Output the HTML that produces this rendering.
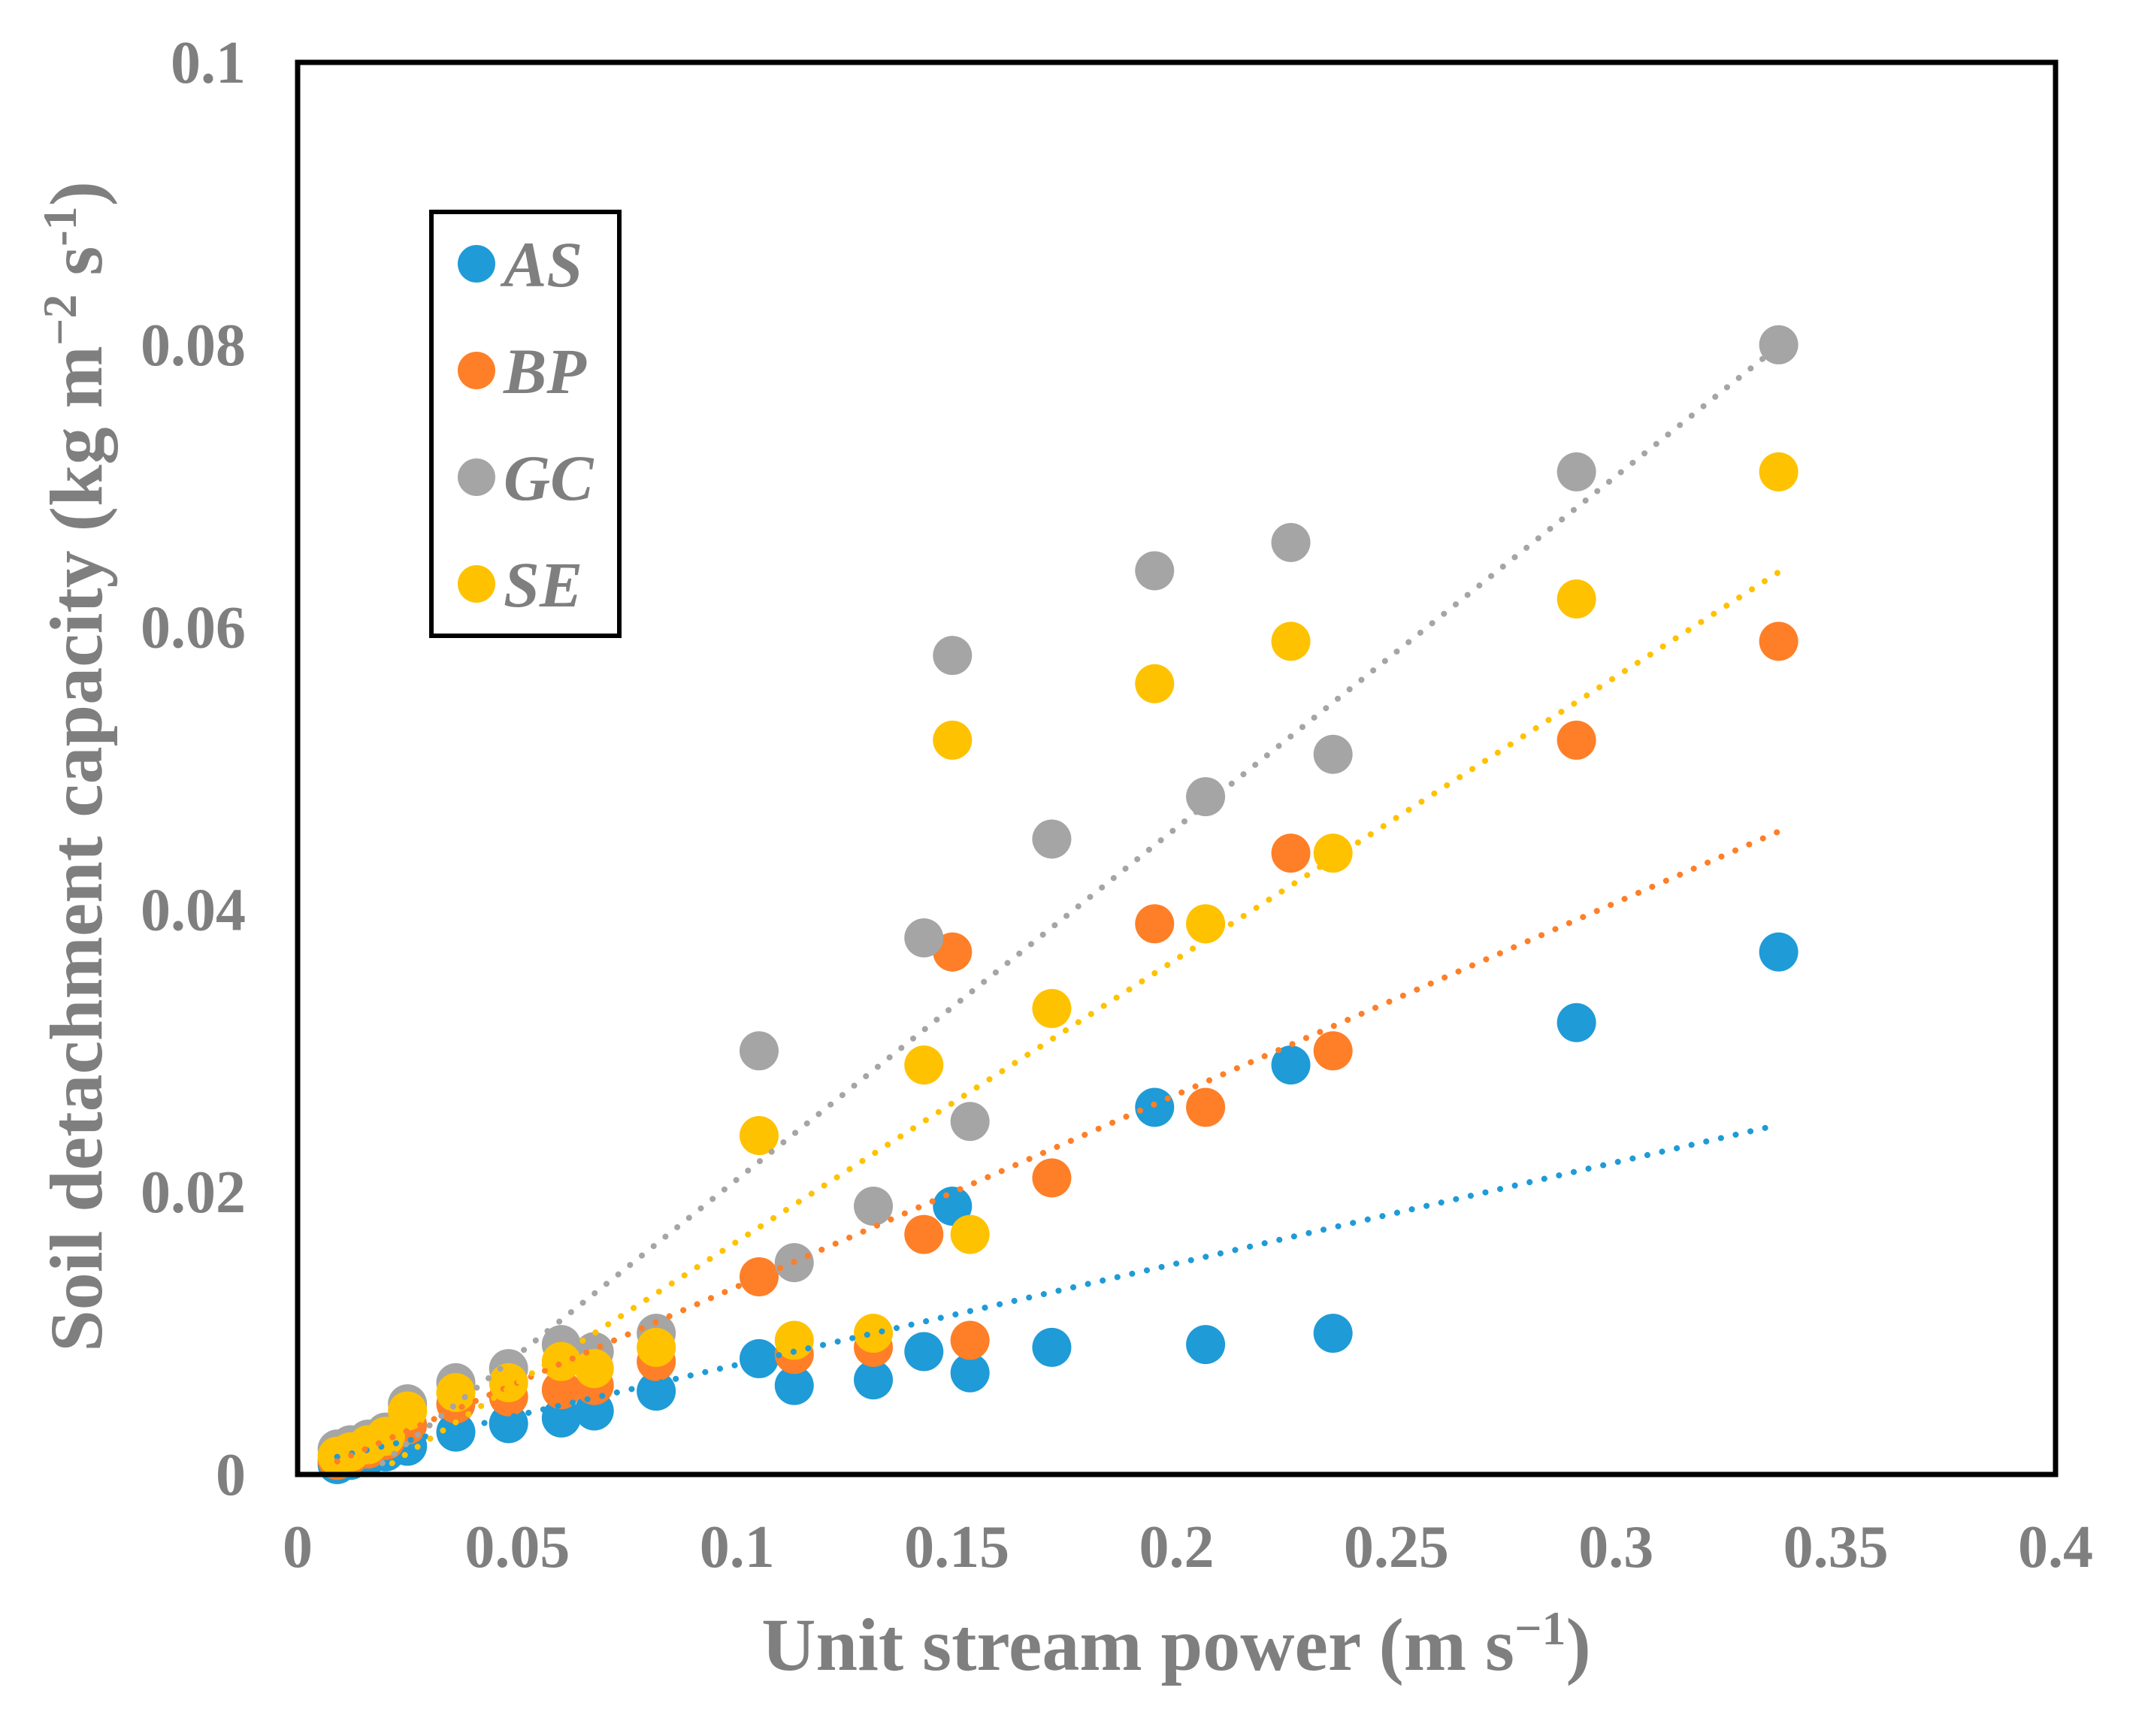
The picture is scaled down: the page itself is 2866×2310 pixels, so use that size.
<!DOCTYPE html>
<html><head><meta charset="utf-8"><style>
html,body{margin:0;padding:0;background:#fff}
svg{display:block}
text{font-family:"Liberation Serif",serif;font-weight:bold;fill:#7f7f7f}
</style></head><body>
<svg id="chart" width="2866" height="2310" viewBox="0 0 2866 2310" xmlns="http://www.w3.org/2000/svg">
<g id="trend"></g>
<g id="pts"></g>
<rect x="396" y="83" width="2339" height="1879" fill="none" stroke="#000" stroke-width="7"/>
<g id="xt"></g>
<g id="yt"></g>
<text x="1565" y="2222" font-size="100" text-anchor="middle">Unit stream power (m s<tspan font-size="64" dy="-34">−1</tspan><tspan dy="34">)</tspan></text>
<text transform="translate(135,1020) rotate(-90)" font-size="100" text-anchor="middle">Soil detachment capacity (kg m<tspan font-size="64" dy="-34">−2</tspan><tspan dy="34"> s</tspan><tspan font-size="64" dy="-34">-1</tspan><tspan dy="34">)</tspan></text>
<g>
<rect x="574" y="282" width="250" height="564" fill="#fff" stroke="#000" stroke-width="6"/>
<g id="leg"></g>
</g>
</svg>
<script>
const xTicks=[0,0.05,0.1,0.15,0.2,0.25,0.3,0.35,0.4];
const xTickLabels=["0","0.05","0.1","0.15","0.2","0.25","0.3","0.35","0.4"];
const yTicks=[0,0.02,0.04,0.06,0.08,0.1];
const yTickLabels=["0","0.02","0.04","0.06","0.08","0.1"];
const seriesNames=["AS","BP","GC","SE"];
const seriesColors=["#1f9bd7","#fe7f27","#a5a5a5","#fec200"];
const xAS=[0.009,0.012,0.016,0.020,0.025,0.036,0.048,0.06,0.0675,0.0816,0.105,0.113,0.131,0.1425,0.149,0.153,0.1716,0.195,0.2066,0.226,0.2356,0.291,0.337];
const yAS=[0.0007,0.0010,0.0013,0.0016,0.0020,0.0030,0.0036,0.0040,0.0045,0.0059,0.0082,0.0063,0.0067,0.0087,0.019,0.0072,0.0090,0.026,0.0092,0.029,0.0100,0.032,0.037];
const yBP=[0.0010,0.0014,0.0018,0.0024,0.0035,0.0050,0.0055,0.0060,0.0063,0.0080,0.014,0.0085,0.0090,0.017,0.037,0.0095,0.021,0.039,0.026,0.044,0.030,0.052,0.059];
const yGC=[0.0018,0.0021,0.0025,0.0030,0.0050,0.0065,0.0075,0.0092,0.0087,0.0100,0.030,0.015,0.019,0.038,0.058,0.025,0.045,0.064,0.048,0.066,0.051,0.071,0.080];
const ySE=[0.0013,0.0016,0.0021,0.0027,0.0045,0.0058,0.0065,0.0080,0.0075,0.0090,0.024,0.0095,0.0100,0.029,0.052,0.017,0.033,0.056,0.039,0.059,0.044,0.062,0.071];
const trendSlope=[0.0717,0.136,0.249,0.200];
const trendIntercept=[0.0006,-0.0003,-0.004,-0.0035];
const trendRange=[0.009,0.337];

const L=396,R=2735,T=83,B=1962;
const sx=v=>L+v/0.4*(R-L);
const sy=v=>B-v/0.1*(B-T);
const NS="http://www.w3.org/2000/svg";
function mk(tag,parent,attrs){const e=document.createElementNS(NS,tag);for(const k in attrs)e.setAttribute(k,attrs[k]);parent.appendChild(e);return e;}
const xt=document.getElementById('xt'),yt=document.getElementById('yt');
xTicks.forEach((v,i)=>{const t=mk('text',xt,{x:sx(v),y:2085,'font-size':80,'text-anchor':'middle'});t.textContent=xTickLabels[i];

});
yTicks.forEach((v,i)=>{const t=mk('text',yt,{x:327,y:sy(v)+27,'font-size':80,'text-anchor':'end'});t.textContent=yTickLabels[i];

});
const ys=[yAS,yBP,yGC,ySE];
const tg=document.getElementById('trend'),pg=document.getElementById('pts');
ys.forEach((arr,s)=>{
  xAS.forEach((x,i)=>{const c=mk('circle',pg,{cx:sx(x),cy:sy(arr[i]),r:26,fill:seriesColors[s]});
  
  });
});
ys.forEach((arr,s)=>{
  const x0=Math.max(trendRange[0],(0.0008-trendIntercept[s])/trendSlope[s]),x1=trendRange[1];
  const l=mk('line',tg,{x1:sx(x0),y1:sy(trendSlope[s]*x0+trendIntercept[s]),x2:sx(x1),y2:sy(trendSlope[s]*x1+trendIntercept[s]),stroke:seriesColors[s],'stroke-width':8,'stroke-linecap':'round','stroke-dasharray':'0.1 20'});
  
  
});
pg.parentNode.insertBefore(tg,null);
const lg=document.getElementById('leg');
seriesNames.forEach((n,i)=>{const y=351+i*142;
  const c=mk('circle',lg,{cx:634,cy:y,r:25,fill:seriesColors[i]});
  
  
  const t=mk('text',lg,{x:670,y:y+30,'font-size':86,'font-style':'italic'});t.textContent=n;
  
  
});
</script>
</body></html>
